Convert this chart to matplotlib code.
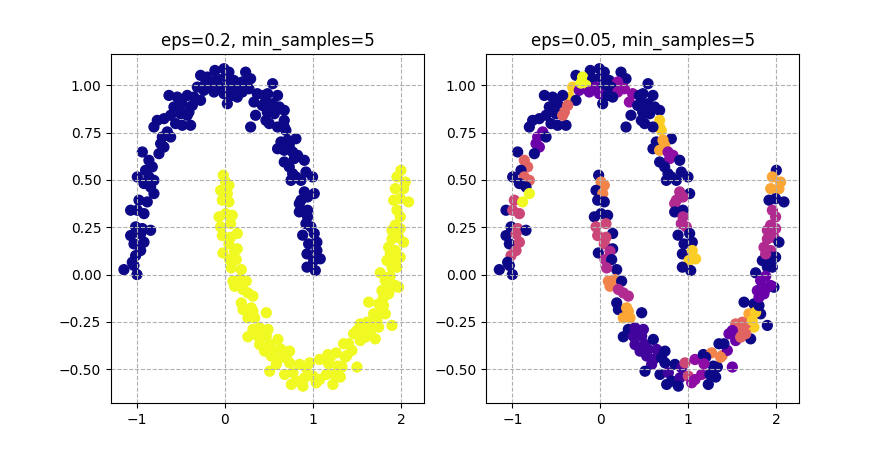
import numpy as np
import matplotlib
matplotlib.use("Agg")
import matplotlib.pyplot as plt

# ---- data ----
# upper moon points (x, y) and their DBSCAN cluster id for eps=0.05 (-1 = noise)
upper_x = [-0.114, -0.011, 0.045, -0.277, -0.201, -0.087, 0.008, 0.102, 0.235, 0.292,
           0.197, -0.163, -0.049, 0.045, 0.121, -0.314, -0.239, -0.125, -0.011, 0.083,
           0.197, 0.273, 0.367, 0.443, 0.330, 0.424, 0.481, 0.348, 0.292, 0.027,
           0.140, -0.352, -0.277, -0.428, -0.636, -0.542, -0.485, -0.580, -0.409, -0.504,
           -0.617, -0.693, -0.769, -0.561, -0.390, -0.485, -0.807, -0.655, -0.712, -0.617,
           -0.731, -0.693, -0.750, -0.939, -0.864, -0.826, -0.902, -0.996, -0.864, -0.807,
           -0.920, -0.845, -0.807, -0.977, -0.883, -1.072, -0.996, -0.920, -1.015, -0.939,
           -0.845, -0.371, -0.428, -0.220,
           0.542, 0.485, 0.598, 0.466, 0.542, 0.617, 0.561, 0.674, 0.466, 0.504,
           0.674, 0.674, 0.693, 0.598, 0.636, 0.598, 0.807, 0.712, 0.731, 0.674,
           0.769, 0.788, 0.826, 0.902, 0.674, 0.731, 0.769, 0.750, 0.807, 0.920,
           0.996, 0.864, 1.015, 0.902, 0.864, 0.939, 0.845, 0.845, 0.939, 0.939,
           0.920, 0.977, 0.883, 1.015,
           -1.072, -0.958, -1.034, -0.920, -0.958, -1.015, -1.053, -1.034, -1.148, -1.000,
           0.951, 1.045, 0.932, 1.045, 1.083, 1.008, 0.932, 1.027]
upper_y = [1.079, 1.088, 1.070, 1.053, 1.044, 1.035, 1.044, 1.026, 1.070, 1.035,
           1.018, 1.000, 0.991, 1.000, 0.991, 0.991, 0.974, 0.965, 0.956, 0.947,
           0.965, 0.982, 0.956, 0.947, 0.912, 0.894, 0.859, 0.842, 0.780, 0.903,
           0.938, 0.938, 0.921, 0.947, 0.947, 0.938, 0.903, 0.886, 0.859, 0.850,
           0.842, 0.824, 0.815, 0.798, 0.789, 0.789, 0.780, 0.754, 0.727, 0.727,
           0.692, 0.674, 0.639, 0.648, 0.604, 0.569, 0.551, 0.516, 0.516, 0.498,
           0.481, 0.463, 0.428, 0.393, 0.384, 0.340, 0.340, 0.322, 0.252, 0.243,
           0.234, 0.894, 0.842, 1.012,
           1.009, 0.956, 0.947, 0.912, 0.903, 0.886, 0.850, 0.868, 0.815, 0.798,
           0.815, 0.780, 0.762, 0.780, 0.701, 0.665, 0.718, 0.710, 0.683, 0.657,
           0.648, 0.613, 0.630, 0.604, 0.595, 0.569, 0.533, 0.498, 0.516, 0.542,
           0.516, 0.498, 0.428, 0.437, 0.393, 0.410, 0.375, 0.331, 0.340, 0.305,
           0.269, 0.252, 0.208, 0.217,
           0.206, 0.215, 0.162, 0.171, 0.127, 0.100, 0.065, 0.048, 0.026, 0.000,
           0.162, 0.171, 0.109, 0.127, 0.083, 0.074, 0.039, 0.021]
upper_cluster = [-1, -1, -1, -1, 9, -1, -1, -1, -1, -1,
                 2, 9, 1, -1, -1, 8, 1, 1, 1, -1,
                 2, 2, 2, -1, 2, -1, -1, -1, -1, -1,
                 -1, 8, -1, -1, -1, -1, -1, -1, 5, -1,
                 -1, -1, -1, -1, -1, -1, -1, 1, 1, -1,
                 1, 1, -1, -1, 5, 5, -1, -1, 5, 5,
                 -1, -1, 9, 4, 9, -1, 4, 4, -1, 4,
                 -1, 5, 5, 9,
                 -1, -1, -1, -1, -1, -1, -1, -1, -1, -1,
                 8, 8, 8, -1, -1, -1, -1, 7, 7, 7,
                 2, 2, 2, -1, -1, -1, -1, -1, -1, -1,
                 -1, -1, -1, 3, 3, 3, 3, -1, -1, 3,
                 3, 3, -1, -1,
                 -1, 4, -1, 4, 4, 4, -1, -1, -1, -1,
                 -1, -1, -1, 8, 8, 8, -1, -1]

# lower moon points
lower_x = [-0.019, 0.008, 0.045, -0.049, 0.027, -0.030, 0.045, -0.068, 0.008, 0.083,
           -0.049, 0.064, 0.140,
           2.000, 1.955, 2.049, 1.936, 2.030, 1.917, 1.992, 2.087, 1.955, 1.992,
           1.936, 1.898, 1.992,
           -0.030, 0.064, 0.045, 0.140,
           -0.023, 0.110, 0.053, 0.129, 0.186, 0.072, 0.091, 0.167, 0.242, 0.110,
           0.205, 0.261, 0.318, 0.186, 0.205, 0.299, 0.318, 0.470, 0.261, 0.337,
           0.318, 0.394, 0.489, 0.261, 0.375, 0.470, 0.394, 0.508, 0.602, 0.451,
           0.545, 0.640, 0.735, 0.527, 0.602, 0.697, 0.735, 0.583, 0.508, 0.678,
           0.773, 0.848, 0.924, 0.962, 1.076, 1.170, 1.265, 0.811, 0.905, 1.000,
           1.076, 0.754, 0.886, 1.038, 1.152, 1.246, 1.284, 1.227,
           1.311, 1.348, 1.386, 1.330, 1.443, 1.500, 1.462, 1.538, 1.576, 1.538,
           1.614, 1.708, 1.689, 1.746, 1.822, 1.898, 1.633, 1.746, 1.784, 1.879,
           1.765, 1.822, 1.973, 1.898, 1.955, 1.841, 1.860, 1.936, 1.992, 1.898,
           1.973, 2.030,
           1.500, 1.595, 1.652, 1.652, 1.727, 1.765, 1.803, 1.803, 1.860, 1.936,
           1.879, 1.936, 1.879, 1.405, 1.367, 1.197, 1.178]
lower_y = [0.525, 0.489, 0.472, 0.445, 0.428, 0.393, 0.384, 0.305, 0.322, 0.313,
           0.252, 0.269, 0.217,
           0.551, 0.516, 0.489, 0.454, 0.454, 0.393, 0.401, 0.384, 0.340, 0.305,
           0.261, 0.234, 0.243,
           0.206, 0.197, 0.162, 0.136,
           0.114, 0.123, 0.079, 0.079, 0.026, 0.035, -0.035, -0.026, -0.035, -0.062,
           -0.079, -0.097, -0.114, -0.150, -0.185, -0.176, -0.194, -0.202, -0.229, -0.229,
           -0.290, -0.282, -0.290, -0.329, -0.326, -0.326, -0.370, -0.370, -0.343, -0.405,
           -0.396, -0.396, -0.405, -0.431, -0.449, -0.440, -0.467, -0.475, -0.511, -0.528,
           -0.519, -0.475, -0.493, -0.467, -0.449, -0.423, -0.414, -0.563, -0.546, -0.537,
           -0.555, -0.581, -0.590, -0.572, -0.528, -0.528, -0.484, -0.581,
           -0.542, -0.366, -0.428, -0.489, -0.401, -0.489, -0.313, -0.349, -0.296, -0.261,
           -0.252, -0.340, -0.208, -0.278, -0.208, -0.269, -0.146, -0.155, -0.085, -0.076,
           0.009, -0.032, -0.067, 0.039, 0.039, 0.074, 0.144, 0.127, 0.092, 0.188,
           0.197, 0.171,
           -0.296, -0.331, -0.313, -0.261, -0.243, -0.199, -0.164, -0.120, -0.102, -0.058,
           -0.009, 0.092, 0.109, -0.366, -0.437, -0.437, -0.472]
lower_cluster = [-1, 6, 6, -1, 6, -1, -1, -1, -1, -1,
                 4, 4, -1,
                 -1, 7, 7, 7, 7, -1, -1, -1, 3, 3,
                 3, 3, 3,
                 4, 4, 4, -1,
                 -1, 3, 3, -1, -1, 3, 6, 6, -1, 6,
                 3, 3, 3, -1, -1, 7, 7, -1, 7, 7,
                 -1, 0, 0, -1, 0, 0, 0, 0, -1, 0,
                 0, 0, -1, 0, 0, -1, -1, 0, -1, -1,
                 0, -1, 0, 4, 2, -1, 6, -1, 0, 4,
                 2, -1, -1, 2, 2, -1, -1, -1,
                 -1, -1, 6, -1, 1, 1, 1, 1, 5, 5,
                 5, -1, 7, 8, -1, -1, -1, -1, 1, 1,
                 -1, 1, -1, -1, -1, -1, 3, 3, -1, 3,
                 3, -1,
                 1, 5, 5, 5, 8, 8, -1, 1, 1, 1,
                 1, -1, 3, -1, 6, -1, 2]

titles = ["eps=0.2, min_samples=5", "eps=0.05, min_samples=5"]

# ---- assemble ----
X = np.array(upper_x + lower_x)
Y = np.array(upper_y + lower_y)
moon_label = np.array([0] * len(upper_x) + [1] * len(lower_x))
fine_label = np.array(upper_cluster + lower_cluster)

fig, axes = plt.subplots(1, 2, figsize=(8.88, 4.53), dpi=100)

axes[0].scatter(X, Y, c=moon_label, cmap="plasma", s=50)
axes[1].scatter(X, Y, c=fine_label, cmap="plasma", s=50, vmin=-1, vmax=9)

for ax, t in zip(axes, titles):
    ax.set_title(t)
    ax.grid(True, linestyle="--")
    ax.set_xlim(-1.295, 2.26)
    ax.set_ylim(-0.68, 1.164)
    ax.set_xticks([-1, 0, 1, 2])
    ax.set_yticks([-0.5, -0.25, 0.0, 0.25, 0.5, 0.75, 1.0])

fig.savefig("out.png", dpi=100)
